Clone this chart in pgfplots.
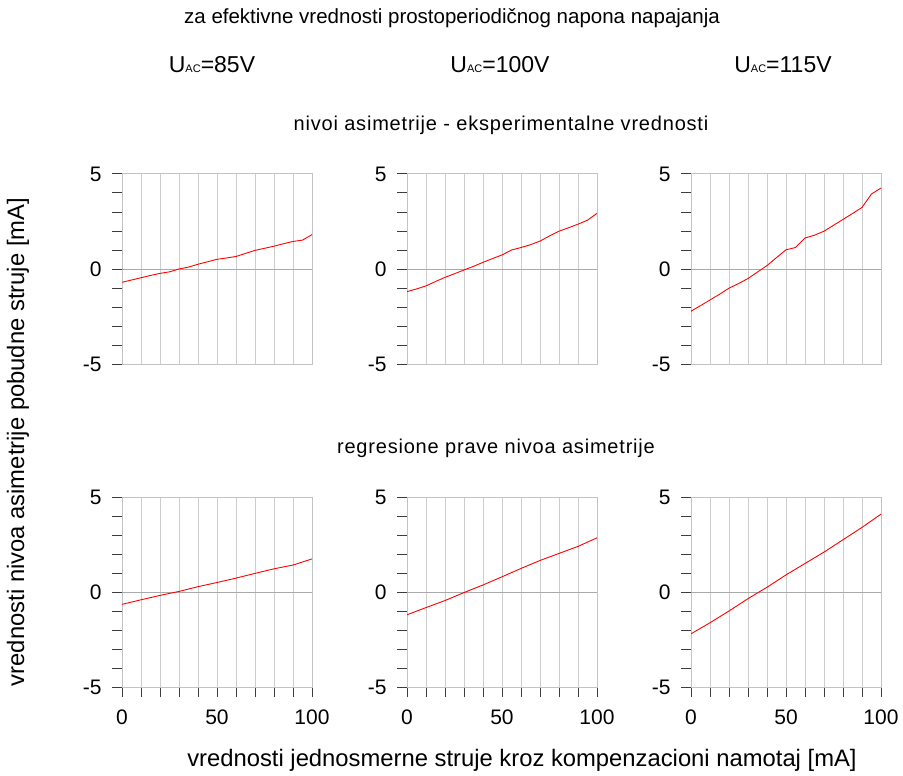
\documentclass[border=0pt]{standalone}
\usepackage{fontspec}
\setmainfont{Liberation Sans}
\usepackage{pgfplots}
\pgfplotsset{compat=1.18}
\definecolor{gridgray}{RGB}{205,205,205}
\definecolor{boxgray}{RGB}{195,195,195}
\definecolor{zerogray}{RGB}{170,170,170}
\definecolor{tickgray}{RGB}{60,60,60}
\pgfplotsset{
  panel/.style={
    scale only axis, width=190pt, height=190pt,
    xmin=0, xmax=100, ymin=-5, ymax=5,
    xtick={0,10,...,100}, ytick={-5,-4,...,5},
    yticklabels={-5,,,,,0,,,,,5},
    xmajorgrids, grid style={gridgray, line width=1pt},
    axis line style={boxgray, line width=1pt},
    tick align=outside, major tick length=10pt,
    ytick pos=left, xtick pos=bottom,
    y tick style={tickgray, line width=1pt},
    tick label style={font=\fontsize{21}{24}\selectfont},
    yticklabel style={xshift=-7pt},
    xticklabel style={yshift=-9pt},
    extra y ticks={0}, extra y tick labels={},
    extra y tick style={grid=major, major grid style={zerogray, line width=1pt}},
  },
  toprow/.style={panel, xticklabels={}, x tick style={draw=none}},
  botrow/.style={panel, xticklabels={0,,,,,50,,,,,100}, x tick style={tickgray, line width=1pt}},
  redline/.style={red, line width=0.9pt, no marks},
}
\newcommand{\uac}{U{\fontsize{11}{12}\selectfont AC}}
\begin{document}
\begin{tikzpicture}
\path[use as bounding box] (0pt,0pt) rectangle (903pt,-776pt);

\node[font=\fontsize{20.5}{24}\selectfont] at (452pt,-18pt) {za efektivne vrednosti prostoperiodičnog napona napajanja};
\node[font=\fontsize{23}{26}\selectfont] at (212pt,-65pt) {\uac=85V};
\node[font=\fontsize{23}{26}\selectfont] at (500pt,-65pt) {\uac=100V};
\node[font=\fontsize{23}{26}\selectfont] at (783pt,-65pt) {\uac=115V};
\node[font=\fontsize{20}{22}\selectfont\addfontfeatures{LetterSpace=4}] at (501pt,-125pt) {nivoi asimetrije - eksperimentalne vrednosti};
\node[font=\fontsize{20}{22}\selectfont\addfontfeatures{LetterSpace=4}] at (496pt,-448pt) {regresione prave nivoa asimetrije};
\node[font=\fontsize{23.8}{26}\selectfont] at (522pt,-760pt) {vrednosti jednosmerne struje kroz kompenzacioni namotaj [mA]};
\node[font=\fontsize{23.8}{26}\selectfont, rotate=90] at (18pt,-442pt) {vrednosti nivoa asimetrije pobudne struje [mA]};

% top row: experimental values
\begin{axis}[toprow, at={(122pt,-364pt)}]
\addplot[redline] coordinates {(0,-0.70)(5,-0.58)(10,-0.46)(15,-0.34)(20,-0.23)(25,-0.15)(30,0.00)(35,0.10)(40,0.25)(45,0.38)(50,0.51)(55,0.58)(60,0.66)(65,0.82)(70,0.98)(75,1.09)(80,1.20)(85,1.33)(90,1.45)(95,1.52)(100,1.81)};
\end{axis}
\begin{axis}[toprow, at={(407pt,-364pt)}]
\addplot[redline] coordinates {(0,-1.19)(5,-1.05)(10,-0.89)(15,-0.66)(20,-0.44)(25,-0.25)(30,-0.05)(35,0.14)(40,0.35)(45,0.55)(50,0.74)(55,1.00)(60,1.13)(65,1.28)(70,1.47)(75,1.74)(80,1.99)(85,2.17)(90,2.36)(95,2.57)(100,2.93)};
\end{axis}
\begin{axis}[toprow, at={(691pt,-364pt)}]
\addplot[redline] coordinates {(0,-2.22)(5,-1.93)(10,-1.63)(15,-1.33)(20,-1.01)(25,-0.77)(30,-0.50)(35,-0.16)(40,0.18)(45,0.60)(50,1.01)(55,1.13)(60,1.63)(65,1.78)(70,1.99)(75,2.30)(80,2.61)(85,2.92)(90,3.24)(95,3.95)(100,4.26)};
\end{axis}

% bottom row: regression lines
\begin{axis}[botrow, at={(122pt,-687pt)}]
\addplot[redline] coordinates {(0,-0.65)(10,-0.41)(20,-0.18)(30,0.03)(40,0.28)(50,0.50)(60,0.73)(70,0.98)(80,1.22)(90,1.42)(100,1.74)};
\end{axis}
\begin{axis}[botrow, at={(407pt,-687pt)}]
\addplot[redline] coordinates {(0,-1.20)(10,-0.82)(20,-0.45)(30,-0.03)(40,0.37)(50,0.80)(60,1.24)(70,1.66)(80,2.03)(90,2.40)(100,2.85)};
\end{axis}
\begin{axis}[botrow, at={(691pt,-687pt)}]
\addplot[redline] coordinates {(0,-2.20)(10,-1.62)(20,-1.00)(30,-0.35)(40,0.25)(50,0.90)(60,1.50)(70,2.10)(80,2.75)(90,3.40)(100,4.10)};
\end{axis}
\end{tikzpicture}
\end{document}
